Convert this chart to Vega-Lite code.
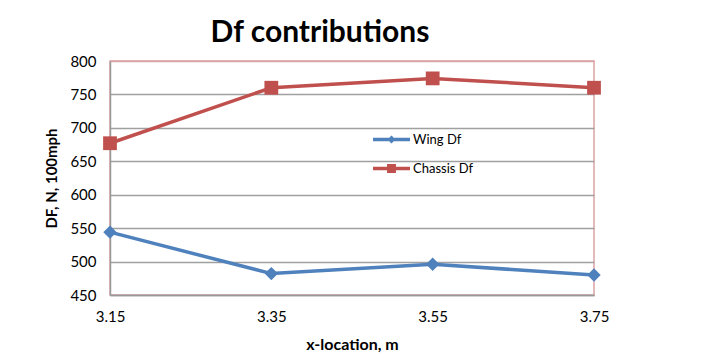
{
  "$schema": "https://vega.github.io/schema/vega-lite/v6.json",
  "width": 484,
  "height": 234,
  "autosize": {"type": "none"},
  "padding": {"left": 110, "top": 61, "right": 111, "bottom": 68},
  "background": "white",
  "title": {"text": "Df contributions", "font": "Lato", "fontSize": 30, "fontWeight": "bold", "color": "#000000", "anchor": "middle", "dx": -32, "offset": 6},
  "data": {"values": [
    {"x": "3.15", "series": "Wing Df", "df": 544},
    {"x": "3.35", "series": "Wing Df", "df": 482},
    {"x": "3.55", "series": "Wing Df", "df": 496},
    {"x": "3.75", "series": "Wing Df", "df": 480},
    {"x": "3.15", "series": "Chassis Df", "df": 677},
    {"x": "3.35", "series": "Chassis Df", "df": 760},
    {"x": "3.55", "series": "Chassis Df", "df": 774},
    {"x": "3.75", "series": "Chassis Df", "df": 760}
  ]},
  "config": {
    "view": {"stroke": "#dba3a3", "strokeWidth": 1.5},
    "axis": {"labelFont": "Lato", "labelFontSize": 15, "labelColor": "#000000", "titleFont": "Lato", "titleFontSize": 15, "titleFontWeight": "bold", "titleColor": "#000000", "domainColor": "#999999", "domainWidth": 1.5, "ticks": false}
  },
  "encoding": {
    "x": {"field": "x", "type": "ordinal", "scale": {"type": "point", "padding": 0},
      "axis": {"title": "x-location, m", "titleFontSize": 16, "labelAngle": 0, "labelPadding": 14, "titlePadding": 12, "grid": false}},
    "y": {"field": "df", "type": "quantitative", "scale": {"domain": [450, 800], "nice": false, "zero": false},
      "axis": {"title": "DF, N, 100mph", "values": [450, 500, 550, 600, 650, 700, 750, 800], "labelPadding": 14, "titlePadding": 10, "grid": true,
        "gridColor": {"condition": {"test": "datum.value === 800", "value": "#dba3a3"}, "value": "#a0a0a0"}, "gridWidth": 1.5}}
  },
  "layer": [
    {"mark": {"type": "line", "strokeWidth": 3.5},
     "encoding": {"color": {"field": "series", "type": "nominal",
      "scale": {"domain": ["Wing Df", "Chassis Df"], "range": ["#4f81bd", "#c0504d"]},
      "legend": {"orient": "none", "legendX": 263, "legendY": 60, "title": null, "labelFont": "Lato", "labelFontSize": 13, "labelColor": "#000000", "symbolSize": 1369, "labelOffset": 3, "rowPadding": 3,
        "encode": {"symbols": {"update": {
          "shape": {"signal": "datum.value === 'Wing Df' ? 'M-1,-0.09H1V0.09H-1Z M0,-0.22L0.22,0L0,0.22L-0.22,0Z' : 'M-1,-0.09H1V0.09H-1Z M-0.24,-0.24H0.24V0.24H-0.24Z'"},
          "fill": {"scale": "color", "field": "value"},
          "stroke": {"value": "transparent"},
          "strokeWidth": {"value": 0},
          "opacity": {"value": 1}}}}}}}},
    {"transform": [{"filter": "datum.series === 'Wing Df'"}],
     "mark": {"type": "point", "shape": "diamond", "filled": true, "opacity": 1, "size": 180, "color": "#4f81bd"}},
    {"transform": [{"filter": "datum.series === 'Chassis Df'"}],
     "mark": {"type": "point", "shape": "square", "filled": true, "opacity": 1, "size": 190, "color": "#c0504d"}}
  ]
}
